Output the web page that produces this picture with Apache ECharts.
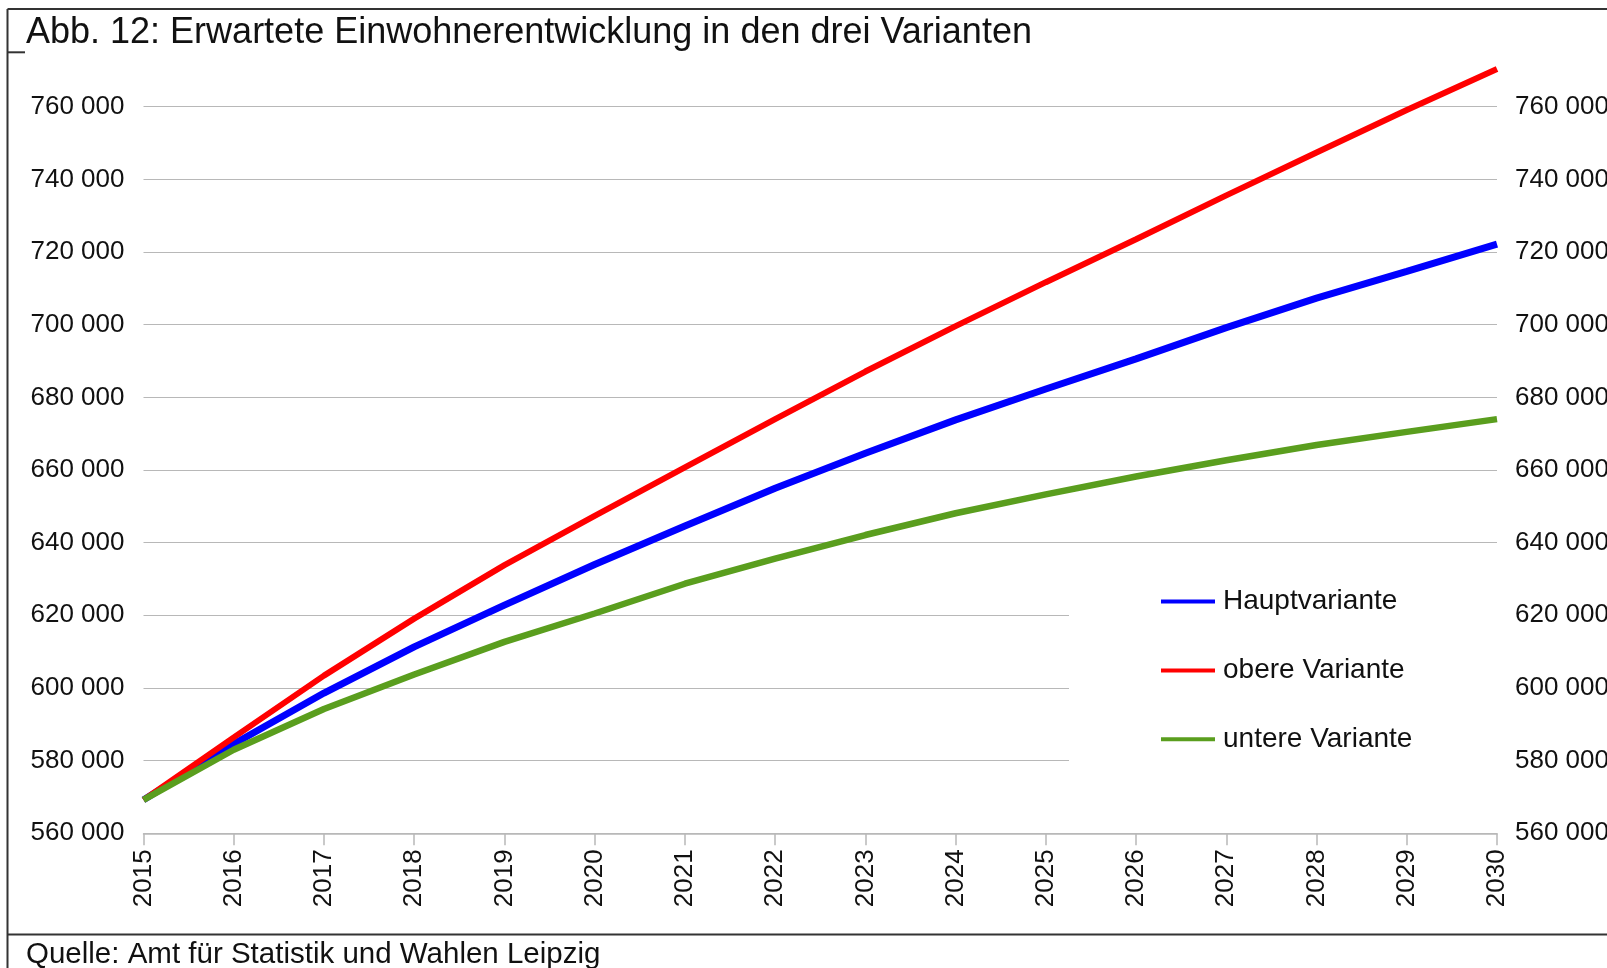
<!DOCTYPE html>
<html>
<head>
<meta charset="utf-8">
<script src="https://cdn.jsdelivr.net/npm/echarts@6/dist/echarts.min.js"></script>
<style>
  html, body { margin: 0; padding: 0; background: #fff; }
  #chart { width: 1607px; height: 968px; }
</style>
</head>
<body>
<div id="chart"></div>
<script>
  var years = ['2015', '2016', '2017', '2018', '2019', '2020', '2021', '2022',
               '2023', '2024', '2025', '2026', '2027', '2028', '2029', '2030'];
  var hauptvariante = [569200, 584600, 598600, 611300, 622800, 634000, 644600, 655000,
                       664600, 673800, 682300, 690600, 699200, 707300, 714700, 722200];
  var obereVariante = [569200, 586400, 603400, 619100, 633800, 647400, 660700, 674000,
                       687100, 699600, 711700, 723500, 735600, 747400, 759100, 770400];
  var untereVariante = [569200, 583000, 594200, 603700, 612700, 620500, 628700, 635600,
                        642100, 648100, 653300, 658200, 662700, 666900, 670500, 674000];
  var yMin = 560000, yMax = 760000, yStep = 20000;

  var font = "'Liberation Sans', Arial, sans-serif";
  var fmt = function (v) { return String(v).replace(/\B(?=(\d{3})+(?!\d))/g, ' '); };

  var chart = echarts.init(document.getElementById('chart'), null, { renderer: 'canvas' });

  // one y axis on each side, same scale
  function yAxis(pos, grid, margin) {
    return {
      type: 'value', position: pos, min: yMin, max: yMax, interval: yStep,
      axisLine: { show: false }, axisTick: { show: false },
      axisLabel: { color: '#111', fontFamily: font, fontSize: 26, margin: margin, formatter: fmt },
      splitLine: { show: grid, lineStyle: { color: '#b8b8b8', width: 1.2 } }
    };
  }

  chart.setOption({
    backgroundColor: '#fff',
    animation: false,
    grid: { left: 143.5, right: 110, top: 106.7, bottom: 134.7, outerBoundsMode: 'none', containLabel: false },
    xAxis: {
      type: 'category', data: years, boundaryGap: false,
      axisLine: { lineStyle: { color: '#b8b8b8', width: 1.5 } },
      axisTick: { length: 12, lineStyle: { color: '#b8b8b8', width: 1.5 } },
      axisLabel: { rotate: 90, color: '#111', fontFamily: font, fontSize: 26, margin: 16 }
    },
    yAxis: [yAxis('left', true, 19), yAxis('right', false, 18)],
    legend: {
      orient: 'vertical', left: 1069, top: 561,
      padding: [25.6, 85, 38, 92],
      backgroundColor: '#fff',
      itemGap: 38.8, itemWidth: 54, itemHeight: 4, icon: 'rect',
      textStyle: { color: '#111', fontFamily: font, fontSize: 28, lineHeight: 30, padding: [0, 0, 0, 3] },
      data: ['Hauptvariante', 'obere Variante', 'untere Variante']
    },
    series: [
      { name: 'Hauptvariante', type: 'line', data: hauptvariante, color: '#0000ff',
        showSymbol: false, symbol: 'none', clip: false, lineStyle: { width: 7, color: '#0000ff' } },
      { name: 'obere Variante', type: 'line', data: obereVariante, color: '#ff0000',
        showSymbol: false, symbol: 'none', clip: false, lineStyle: { width: 6, color: '#ff0000' } },
      { name: 'untere Variante', type: 'line', data: untereVariante, color: '#5a9e1e',
        showSymbol: false, symbol: 'none', clip: false, lineStyle: { width: 6.5, color: '#5a9e1e' } }
    ],
    graphic: [
      // frame lines
      { type: 'line', shape: { x1: 7.5, y1: 9, x2: 1607, y2: 9 }, style: { stroke: '#333', lineWidth: 2 } },
      { type: 'line', shape: { x1: 7.5, y1: 9, x2: 7.5, y2: 968 }, style: { stroke: '#333', lineWidth: 2 } },
      { type: 'line', shape: { x1: 7.5, y1: 52.3, x2: 25, y2: 52.3 }, style: { stroke: '#333', lineWidth: 2 } },
      { type: 'line', shape: { x1: 7.5, y1: 934.5, x2: 1607, y2: 934.5 }, style: { stroke: '#333', lineWidth: 2 } },
      { type: 'text', x: 26, y: 33,
        style: { text: 'Abb. 12: Erwartete Einwohnerentwicklung in den drei Varianten',
                 fill: '#111', font: '36px ' + font, textVerticalAlign: 'middle' } },
      { type: 'text', x: 26, y: 955,
        style: { text: 'Quelle: Amt für Statistik und Wahlen Leipzig',
                 fill: '#111', font: '29.5px ' + font, textVerticalAlign: 'middle' } }
    ]
  });
</script>
</body>
</html>
